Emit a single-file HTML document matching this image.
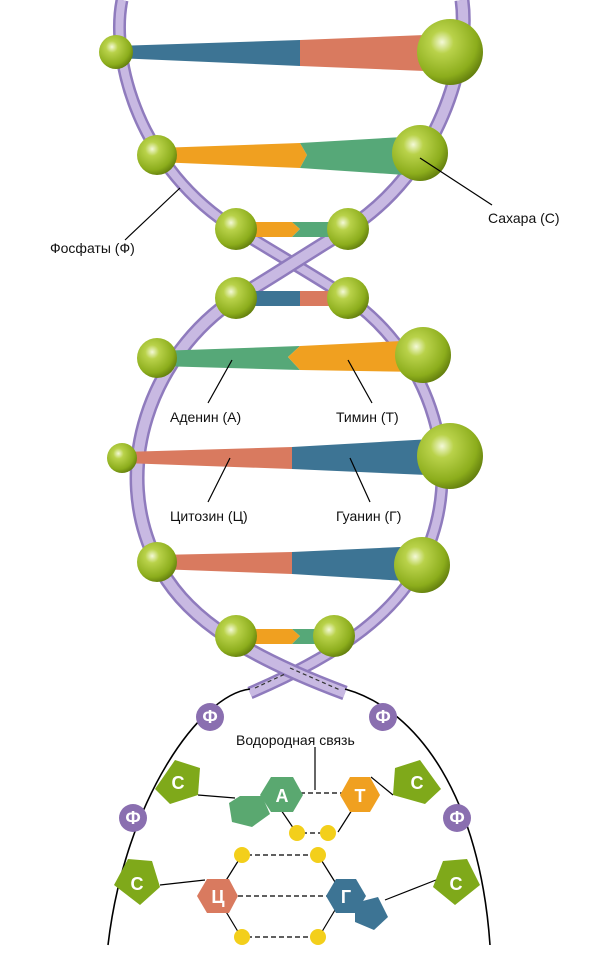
<!DOCTYPE html>
<html><head><meta charset="utf-8"><style>
body{margin:0;background:#fff}
svg{display:block}
text{font-family:"Liberation Sans",sans-serif}
</style></head><body>
<svg width="600" height="959" viewBox="0 0 600 959" xmlns="http://www.w3.org/2000/svg">
<defs>
<radialGradient id="b" cx="0.38" cy="0.35" r="0.7">
<stop offset="0" stop-color="#f4f9d8"/><stop offset="0.25" stop-color="#b9d24a"/><stop offset="0.75" stop-color="#8cad1c"/><stop offset="1" stop-color="#5f7a0c"/>
</radialGradient>
</defs>
<g fill="none" stroke-linecap="butt">
<path d="M122,0 C110,60 140,170 236,229 C290,262 330,285 348,298 C430,355 470,470 420,565 C395,610 350,650 250,693" stroke="#8f7bbd" stroke-width="13"/>
<path d="M122,0 C110,60 140,170 236,229 C290,262 330,285 348,298 C430,355 470,470 420,565 C395,610 350,650 250,693" stroke="#c8b9e2" stroke-width="8"/>
<path d="M462,0 C470,60 440,170 348,229 C300,258 260,285 236,298 C150,355 110,470 157,562 C180,610 230,650 345,693" stroke="#8f7bbd" stroke-width="15"/>
<path d="M462,0 C470,60 440,170 348,229 C300,258 260,285 236,298 C150,355 110,470 157,562 C180,610 230,650 345,693" stroke="#c8b9e2" stroke-width="10"/>
<line x1="255" y1="688" x2="285" y2="674" stroke="#333" stroke-dasharray="4,3" stroke-width="1.2"/>
<line x1="290" y1="668" x2="340" y2="690" stroke="#333" stroke-dasharray="4,3" stroke-width="1.2"/>
</g>
<g>
<polygon points="116,46 300,40 300,66 116,58" fill="#3d7494"/><polygon points="300,40 450,34 450,72 300,66" fill="#d97a5f"/>
<polygon points="157,148 300,143 307,155 300,168 157,162" fill="#f0a020"/><polygon points="300,143 420,136 420,176 300,168 307,155" fill="#56a878"/>
<polygon points="236,222 292,222 300,229 292,237 236,237" fill="#f0a020"/><polygon points="292,222 348,222 348,237 292,237 300,229" fill="#56a878"/>
<polygon points="236,291 300,291 300,306 236,306" fill="#3d7494"/><polygon points="300,291 348,291 348,306 300,306" fill="#d97a5f"/>
<polygon points="157,351 300,346 288,357 300,370 157,366" fill="#56a878"/><polygon points="300,346 423,340 423,372 300,370 288,357" fill="#f0a020"/>
<polygon points="122,452 292,447 292,469 122,463" fill="#d97a5f"/><polygon points="292,447 450,438 450,476 292,469" fill="#3d7494"/>
<polygon points="157,555 292,552 292,574 157,569" fill="#d97a5f"/><polygon points="292,552 422,546 422,582 292,574" fill="#3d7494"/>
<polygon points="236,629 292,629 300,636 292,644 236,644" fill="#f0a020"/><polygon points="292,629 334,629 334,644 292,644 300,636" fill="#56a878"/>
</g>
<g fill="url(#b)">
<circle cx="116" cy="52" r="17"/><circle cx="450" cy="52" r="33"/>
<circle cx="157" cy="155" r="20"/><circle cx="420" cy="153" r="28"/>
<circle cx="236" cy="229" r="21"/><circle cx="348" cy="229" r="21"/>
<circle cx="236" cy="298" r="21"/><circle cx="348" cy="298" r="21"/>
<circle cx="157" cy="358" r="20"/><circle cx="423" cy="355" r="28"/>
<circle cx="122" cy="458" r="15"/><circle cx="450" cy="456" r="33"/>
<circle cx="157" cy="562" r="20"/><circle cx="422" cy="565" r="28"/>
<circle cx="236" cy="636" r="21"/><circle cx="334" cy="636" r="21"/>
</g>
<g stroke="#000" stroke-width="1.2">
<line x1="125" y1="240" x2="180" y2="188"/>
<line x1="420" y1="158" x2="492" y2="205"/>
<line x1="208" y1="403" x2="232" y2="360"/>
<line x1="372" y1="403" x2="348" y2="360"/>
<line x1="208" y1="502" x2="230" y2="458"/>
<line x1="370" y1="502" x2="350" y2="458"/>
</g>
<g font-size="14" fill="#111">
<text x="50" y="253">Фосфаты (Ф)</text>
<text x="488" y="223">Сахара (С)</text>
<text x="170" y="422">Аденин (А)</text>
<text x="336" y="422">Тимин (Т)</text>
<text x="170" y="521">Цитозин (Ц)</text>
<text x="336" y="521">Гуанин (Г)</text>
<text x="236" y="745">Водородная связь</text>
</g>
<path d="M108,945 C125,800 200,695 250,689 M345,689 C420,710 480,800 490,945" fill="none" stroke="#000" stroke-width="1.6"/>
<g stroke="#000" stroke-width="1.2" fill="none">
<line x1="315" y1="747" x2="315" y2="790"/>
<line x1="300" y1="793" x2="342" y2="793" stroke-dasharray="5,3"/>
<line x1="198" y1="795" x2="235" y2="798"/>
<line x1="371" y1="777" x2="393" y2="795"/>
<line x1="281" y1="810" x2="296" y2="832"/><line x1="352" y1="810" x2="338" y2="832"/>
<line x1="302" y1="833" x2="325" y2="833" stroke-dasharray="5,3"/>
<line x1="247" y1="855" x2="317" y2="855" stroke-dasharray="5,3"/>
<line x1="240" y1="858" x2="225" y2="882"/><line x1="320" y1="858" x2="335" y2="882"/>
<line x1="238" y1="896" x2="330" y2="896" stroke-dasharray="5,3"/>
<line x1="160" y1="885" x2="205" y2="880"/>
<line x1="385" y1="900" x2="436" y2="880"/>
<line x1="225" y1="910" x2="240" y2="935"/><line x1="335" y1="910" x2="320" y2="935"/>
<line x1="247" y1="937" x2="317" y2="937" stroke-dasharray="5,3"/>
</g>
<g fill="#f3cf1b">
<circle cx="297" cy="833" r="8"/><circle cx="328" cy="833" r="8"/>
<circle cx="242" cy="855" r="8"/><circle cx="318" cy="855" r="8"/>
<circle cx="242" cy="937" r="8"/><circle cx="318" cy="937" r="8"/>
</g>
<g fill="#8a6fb0">
<circle cx="210" cy="717" r="14"/><circle cx="383" cy="717" r="14"/>
<circle cx="133" cy="818" r="14"/><circle cx="457" cy="818" r="14"/>
</g>
<g fill="#7fa91a">
<polygon points="155,789 175,760 200,768 198,795 170,804"/>
<polygon points="393,795 395,768 420,760 441,789 425,804"/>
<polygon points="114,885 128,859 152,861 160,887 140,905"/>
<polygon points="433,887 443,861 467,859 480,885 455,905"/>
</g>
<polygon points="229,803 240,796 262,796 270,814 252,827 232,822" fill="#5aa870"/>
<polygon points="260,795 271,777 293,777 303,795 293,812 271,812" fill="#5aa870"/>
<polygon points="340,795 350,777 370,777 380,795 370,812 350,812" fill="#f0a020"/>
<polygon points="197,896 207,879 229,879 238,896 229,913 207,913" fill="#d97a5f"/>
<polygon points="355,903 378,897 388,917 374,930 355,922" fill="#3d7494"/>
<polygon points="326,896 336,879 356,879 366,896 356,913 336,913" fill="#3d7494"/>
<g fill="#fff" font-size="18" font-weight="bold" text-anchor="middle">
<text x="210" y="723">Ф</text><text x="383" y="723">Ф</text><text x="133" y="824">Ф</text><text x="457" y="824">Ф</text>
<text x="178" y="789">С</text><text x="417" y="789">С</text><text x="137" y="890">С</text><text x="456" y="890">С</text>
<text x="282" y="802">А</text><text x="360" y="802">Т</text><text x="218" y="903">Ц</text><text x="346" y="903">Г</text>
</g>
</svg>
</body></html>
